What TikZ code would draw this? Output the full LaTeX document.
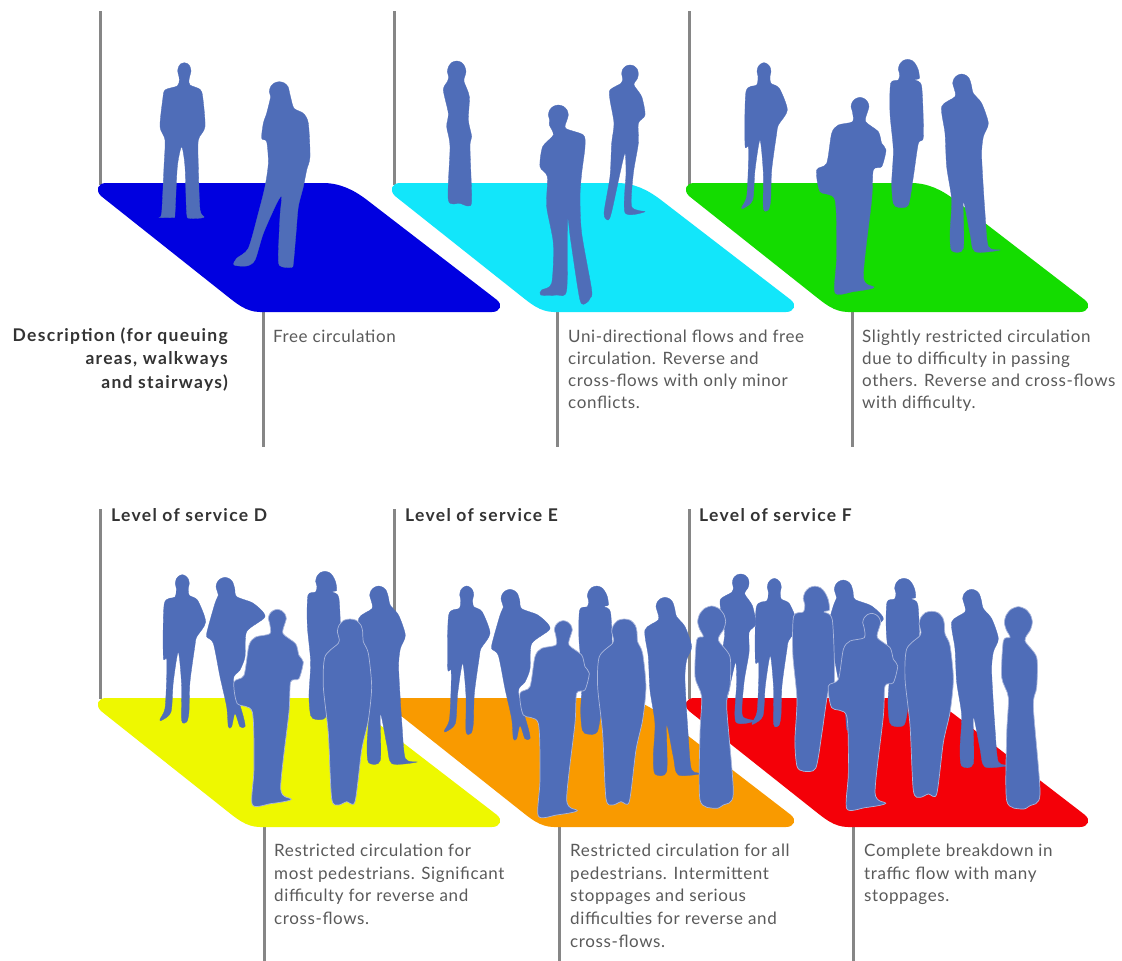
\documentclass[tikz,border=0pt]{standalone}
\usepackage{fontspec}
\setmainfont{Lato}
\newfontfamily\bodyfont[LetterSpace=3.6]{Lato}
\newfontfamily\headfont[LetterSpace=7.5]{Lato}
\definecolor{personc}{HTML}{4F6DB8}
\definecolor{edgec}{HTML}{A9B6DC}
\definecolor{rulec}{HTML}{868686}
\definecolor{floorA}{HTML}{0000E0}
\definecolor{floorB}{HTML}{12E6FA}
\definecolor{floorC}{HTML}{14DC00}
\definecolor{floorD}{HTML}{EEF800}
\definecolor{floorE}{HTML}{F99A00}
\definecolor{floorF}{HTML}{F40008}
\definecolor{bodytext}{HTML}{5A5A5A}
\definecolor{headtext}{HTML}{333333}
\tikzset{
  person/.style={fill=personc,draw=personc,line width=.3pt},
  front/.style={fill=personc,draw=edgec,line width=.7pt},
  vrule/.style={draw=rulec,line width=3pt},
  bodylabel/.style={inner sep=0pt,anchor=north west,align=left,text=bodytext,font=\fontsize{17}{22.8}\selectfont\bodyfont},
  toplabel/.style={bodylabel,font=\fontsize{17}{22}\selectfont\bodyfont},
  headlabel/.style={inner sep=0pt,anchor=west,text=headtext,font=\fontsize{17.5}{22.8}\selectfont\headfont\bfseries},
  sidelabel/.style={inner sep=0pt,anchor=north east,align=right,text=headtext,font=\fontsize{17.5}{23.4}\selectfont\headfont\bfseries},
}
% Floor shape, drawn at an (x,y) offset
\newcommand{\floorshape}[3]{%
  \fill[#1,shift={(#2,#3)}] (106,183) -- (323,183)
    .. controls (340,183) and (354,190) .. (367,200)
    -- (497,300) .. controls (503,305) and (500,312) .. (492,312)
    -- (260,312) .. controls (246,312) and (236,303) .. (227,296)
    -- (101,196) .. controls (95,190) and (98,183) .. (106,183) -- cycle;}
% Silhouettes, in coordinates three times finer than the picture
\def\FigA{plot[smooth cycle,tension=.45] coordinates {(266,226)(263,213)(266,200)(273,191)(283,188)(293,191)(300,200)(303,213)(300,226)(297,240)(300,255)(330,268)(338,290)(345,380)(325,420)(325,500)(330,630)(342,652)(300,655)(290,640)(285,500)(275,440)(262,500)(255,640)(250,652)(208,652)(215,640)(222,500)(225,420)(210,380)(218,300)(225,270)(262,258)(268,240)}}
\def\FigB{plot[smooth cycle,tension=.45] coordinates {(542,290)(538,275)(542,260)(553,249)(568,245)(583,249)(594,260)(598,275)(602,292)(612,325)(640,340)(655,370)(660,470)(650,510)(640,560)(625,620)(618,700)(610,790)(605,802)(575,800)(565,780)(570,650)(575,590)(560,610)(520,700)(495,780)(470,798)(432,795)(440,775)(475,745)(505,640)(525,560)(535,490)(530,425)(515,415)(520,370)(530,340)(540,300)}}
\def\FigC{plot[smooth cycle,tension=.45] coordinates {(176,231)(172,215)(176,199)(186,187)(200,183)(214,187)(224,199)(228,215)(224,231)(222,245)(238,290)(235,360)(245,410)(240,440)(245,600)(235,618)(210,610)(175,600)(180,440)(170,380)(175,340)(160,270)(172,245)}}
\def\FigD{plot[smooth cycle,tension=.45] coordinates {(479,360)(475,345)(479,330)(490,319)(505,315)(520,319)(531,330)(535,345)(531,360)(527,385)(580,405)(585,440)(575,520)(570,590)(575,700)(605,870)(600,895)(590,908)(570,900)(542,720)(533,660)(530,870)(500,885)(452,885)(455,870)(485,850)(490,730)(470,620)(472,530)(450,500)(458,440)(490,405)(478,375)}}
\def\FigE{plot[smooth cycle,tension=.45] coordinates {(698,236)(695,222)(698,208)(708,198)(720,195)(732,198)(742,208)(745,222)(742,236)(732,255)(755,290)(765,345)(745,370)(745,430)(730,520)(725,620)(765,635)(705,638)(708,520)(705,460)(690,520)(665,635)(655,660)(642,640)(660,530)(665,430)(672,370)(660,300)(660,270)(693,250)}}
\def\FigF{plot[smooth cycle,tension=.45] coordinates {(234,229)(231,215)(234,201)(242,192)(252,188)(262,192)(270,201)(273,215)(270,229)(273,250)(298,265)(322,330)(295,375)(290,400)(275,510)(272,600)(265,630)(250,625)(250,520)(240,420)(225,510)(218,600)(190,625)(185,622)(200,590)(205,500)(205,440)(195,435)(198,275)(230,255)}}
\def\FigG{plot[smooth cycle,tension=.45] coordinates {(517,334)(513,320)(517,306)(527,296)(540,292)(553,296)(563,306)(567,320)(563,334)(557,365)(595,395)(605,430)(618,450)(605,500)(580,510)(575,600)(550,830)(582,862)(520,875)(465,878)(470,770)(465,600)(420,575)(410,510)(440,490)(455,400)(475,375)(518,365)}}
\def\FigH{plot[smooth cycle,tension=.45] coordinates {(659,223)(655,208)(659,193)(669,182)(683,178)(697,182)(707,193)(715,210)(718,235)(705,240)(725,260)(730,410)(715,430)(700,530)(685,615)(655,622)(640,610)(635,550)(640,450)(630,340)(632,250)(655,240)}}
\def\FigI{plot[smooth cycle,tension=.45] coordinates {(822,264)(818,250)(822,236)(832,226)(845,222)(858,226)(868,236)(874,255)(880,280)(905,310)(925,370)(910,410)(905,470)(915,640)(925,740)(960,750)(885,755)(870,700)(850,605)(850,745)(815,752)(810,700)(815,600)(800,500)(795,400)(785,320)(825,290)}}
\def\FigJ{plot[smooth cycle,tension=.45] coordinates {(382,274)(378,260)(382,246)(392,236)(405,232)(418,236)(428,246)(434,265)(440,290)(490,310)(525,350)(470,395)(465,470)(450,510)(430,540)(460,650)(465,680)(450,680)(435,640)(425,680)(415,680)(410,620)(390,530)(370,430)(350,410)(355,380)(375,310)(385,285)}}
\def\FigK{plot[smooth cycle,tension=.45] coordinates {(747,414)(742,395)(747,376)(761,361)(780,357)(799,361)(813,376)(818,395)(820,425)(835,460)(845,560)(835,660)(815,750)(795,905)(770,905)(745,915)(725,895)(715,700)(700,560)(705,470)(745,430)}}
\def\FigL{plot[smooth cycle,tension=.45] coordinates {(929,388)(923,365)(929,342)(944,325)(965,318)(986,325)(1001,342)(1007,365)(1001,388)(985,420)(1020,470)(1020,560)(1010,620)(1030,880)(1000,915)(975,925)(930,900)(930,700)(935,590)(915,530)(920,420)(940,410)}}
% #1 figure, #2 style, #3 x, #4 y, #5 size factor
\newcommand{\putfig}[5]{\path[#2,shift={(#3,#4)},scale=#5/3] #1;}
\begin{document}
\begin{tikzpicture}[x=1pt,y=-1pt]
\path[use as bounding box,fill=white] (0,0) rectangle (1122,961);
% posts
\coordinate (pA) at (100,11);  \coordinate (fA) at (100,185);
\coordinate (pB) at (394,11);  \coordinate (fB) at (394,185);
\coordinate (pC) at (689,11);  \coordinate (fC) at (689,185);
\coordinate (pD) at (100,509); \coordinate (fD) at (100,699);
\coordinate (pE) at (394,509); \coordinate (fE) at (394,620);
\coordinate (pF) at (689,509); \coordinate (fF) at (689,699);
\coordinate (qA) at (263,310); \coordinate (rA) at (263,447);
\coordinate (qB) at (557,310); \coordinate (rB) at (557,447);
\coordinate (qC) at (852,310); \coordinate (rC) at (852,447);
\coordinate (qD) at (264,826); \coordinate (rD) at (264,961);
\coordinate (qE) at (559,826); \coordinate (rE) at (559,961);
\coordinate (qF) at (853,826); \coordinate (rF) at (853,961);
\foreach \a/\b in {pA/fA,pB/fB,pC/fC,pD/fD,pE/fE,pF/fF,qA/rA,qB/rB,qC/rC,qD/rD,qE/rE,qF/rF}
  \draw[vrule] (\a) -- (\b);
% floors
\floorshape{floorA}{0}{0}
\floorshape{floorB}{294}{0}
\floorshape{floorC}{588}{0}
\floorshape{floorD}{0}{515}
\floorshape{floorE}{294}{515}
\floorshape{floorF}{588}{515}
% level A
\putfig{\FigA}{person}{90}{0}{1}
\putfig{\FigB}{person}{90}{0}{1}
% level B
\putfig{\FigC}{person}{390}{0}{1}
\putfig{\FigE}{person}{390}{0}{1}
\putfig{\FigD}{person}{390}{0}{1}
% level C
\putfig{\FigF}{person}{680}{0}{1}
\putfig{\FigH}{person}{680}{0}{1}
\putfig{\FigI}{person}{680}{0}{1}
\putfig{\FigG}{person}{680}{0}{1}
% level D
\putfig{\FigF}{person}{98.3}{512}{1}
\putfig{\FigJ}{person}{90}{500}{1}
\putfig{\FigH}{person}{97.3}{512}{1}
\putfig{\FigI}{person}{97}{512}{1}
\putfig{\FigG}{front}{97.3}{512}{1}
\putfig{\FigK}{front}{90}{500}{1}
% level F (behind the front woman of E)
\putfig{\FigE}{person}{500.7}{509}{1}
\putfig{\FigF}{person}{690.3}{515.7}{1}
\putfig{\FigJ}{person}{708.3}{502.7}{1}
\putfig{\FigH}{person}{676.3}{519}{1}
\putfig{\FigH}{front}{530.3}{512}{1.25}
\putfig{\FigI}{person}{690}{515.3}{1}
\putfig{\FigG}{front}{691.7}{516}{1}
\putfig{\FigK}{front}{671.7}{492.3}{1}
\putfig{\FigL}{front}{696.7}{500.7}{1}
% level E
\putfig{\FigF}{person}{382.7}{523.3}{1}
\putfig{\FigJ}{person}{375}{512}{1}
\putfig{\FigH}{person}{369}{526.7}{1}
\putfig{\FigI}{person}{383.3}{523.3}{1}
\putfig{\FigG}{front}{383.3}{523.3}{1}
\putfig{\FigK}{front}{364.3}{500}{1}
\putfig{\FigL}{front}{390}{500}{1}
% texts
\node[sidelabel] (desc) at (228,327.5) {Description (for queuing\\areas, walkways\\and stairways)};
\node[toplabel] (tA) at (273,329.5) {Free circulation};
\node[toplabel] (tB) at (568,329.5) {Uni-directional flows and free\\circulation. Reverse and\\cross-flows with only minor\\conflicts.};
\node[toplabel] (tC) at (862,329.5) {Slightly restricted circulation\\due to difficulty in passing\\others. Reverse and cross-flows\\with difficulty.};
\node[headlabel] (hD) at (111,515) {Level of service D};
\node[headlabel] (hE) at (405,515) {Level of service E};
\node[headlabel] (hF) at (699,515) {Level of service F};
\node[bodylabel] (tD) at (274,843.5) {Restricted circulation for\\most pedestrians. Significant\\difficulty for reverse and\\cross-flows.};
\node[bodylabel] (tE) at (570,843.5) {Restricted circulation for all\\pedestrians. Intermittent\\stoppages and serious\\difficulties for reverse and\\cross-flows.};
\node[bodylabel] (tF) at (864,843.5) {Complete breakdown in\\traffic flow with many\\stoppages.};
\end{tikzpicture}
\end{document}
